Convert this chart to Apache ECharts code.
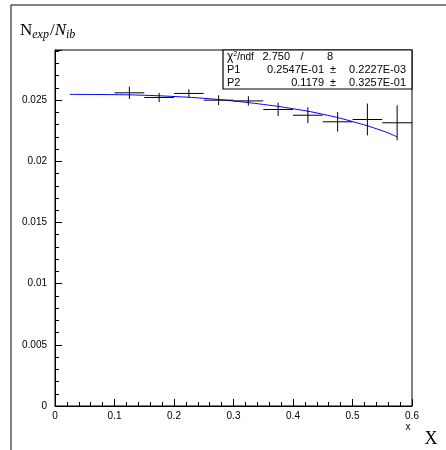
<!DOCTYPE html>
<html>
<head>
<meta charset="utf-8">
<script src="https://cdn.jsdelivr.net/npm/echarts@6/dist/echarts.min.js"></script>
<style>
  html, body { margin: 0; padding: 0; background: #fff; }
  #main { width: 446px; height: 450px; }
</style>
</head>
<body>
<div id="main"></div>
<script>
// bin centres and measured ratio N_exp/N_ib with errors
const xCenters = [0.125, 0.175, 0.225, 0.275, 0.325, 0.375, 0.425, 0.475, 0.525, 0.575];
const ratio = [0.02560, 0.02522, 0.02555, 0.02500, 0.02494, 0.02424, 0.02377, 0.02323, 0.02342, 0.02315];
const yErr = [0.00050, 0.00038, 0.00034, 0.00040, 0.00038, 0.00055, 0.00065, 0.00080, 0.00130, 0.00143];
const xHalf = [0.025, 0.025, 0.025, 0.025, 0.025, 0.025, 0.025, 0.025, 0.025, 0.025];

// fit curve
const fitX = [0.025, 0.1, 0.15, 0.2, 0.25, 0.3, 0.35, 0.4, 0.45, 0.5, 0.55, 0.575];
const fitY = [0.02547, 0.02545, 0.02540, 0.02530, 0.02515, 0.02493, 0.02465, 0.02430, 0.02385, 0.02325, 0.02250, 0.02200];

// stats box text
const statRows = [
  ["P1", "0.2547E-01", "0.2227E-03"],
  ["P2", "0.1179", "0.3257E-01"]
];
const chi2 = "2.750";
const ndf = "8";

const sans = "Liberation Sans";
const serif = "Liberation Serif";

const points = xCenters.map((x, i) => [x, ratio[i], xHalf[i], yErr[i]]);
const fit = fitX.map((x, i) => [x, fitY[i]]);

const chart = echarts.init(document.getElementById("main"));

const statsGraphic = [
  {
    type: "rect", z: 100,
    shape: { x: 223, y: 50, width: 189, height: 39 },
    style: { fill: "#fff", stroke: "#000", lineWidth: 1.2 }
  },
  {
    type: "text", z: 101, x: 227, y: 57,
    style: {
      text: "{c|χ}{s|2}{n|/ndf}", verticalAlign: "middle",
      rich: {
        c: { fontFamily: sans, fontSize: 12, fill: "#000" },
        s: { fontFamily: sans, fontSize: 7, fill: "#000", padding: [0, 0, 6, 0] },
        n: { fontFamily: sans, fontSize: 10, fill: "#000" }
      }
    }
  },
  { type: "text", z: 101, x: 290, y: 57, style: { text: chi2, fontFamily: sans, fontSize: 11, fill: "#000", align: "right", verticalAlign: "middle" } },
  { type: "text", z: 101, x: 302, y: 57, style: { text: "/", fontFamily: sans, fontSize: 11, fill: "#000", align: "center", verticalAlign: "middle" } },
  { type: "text", z: 101, x: 330, y: 57, style: { text: ndf, fontFamily: sans, fontSize: 11, fill: "#000", align: "center", verticalAlign: "middle" } }
];
statRows.forEach((r, i) => {
  const y = 70 + i * 13;
  statsGraphic.push(
    { type: "text", z: 101, x: 227, y: y, style: { text: r[0], fontFamily: sans, fontSize: 11, fill: "#000", verticalAlign: "middle" } },
    { type: "text", z: 101, x: 324, y: y, style: { text: r[1], fontFamily: sans, fontSize: 11, fill: "#000", align: "right", verticalAlign: "middle" } },
    { type: "text", z: 101, x: 333, y: y, style: { text: "±", fontFamily: sans, fontSize: 11, fill: "#000", align: "center", verticalAlign: "middle" } },
    { type: "text", z: 101, x: 406, y: y, style: { text: r[2], fontFamily: sans, fontSize: 11, fill: "#000", align: "right", verticalAlign: "middle" } }
  );
});

const option = {
  animation: false,
  backgroundColor: "#fff",
  grid: { left: 55, right: 34, top: 50, bottom: 44, show: true, borderColor: "#000", borderWidth: 1 },
  xAxis: {
    type: "value", min: 0, max: 0.6, interval: 0.1,
    axisLine: { onZero: false, lineStyle: { color: "#000", width: 1 } },
    axisTick: { inside: true, length: 7, lineStyle: { color: "#000" } },
    minorTick: { show: true, splitNumber: 5, length: 4, lineStyle: { color: "#000" } },
    splitLine: { show: false },
    axisLabel: { color: "#000", fontFamily: sans, fontSize: 10, margin: 5,
      formatter: v => String(parseFloat(v.toFixed(2))) }
  },
  yAxis: {
    type: "value", min: 0, max: 0.0291, interval: 0.005,
    axisLine: { onZero: false, lineStyle: { color: "#000", width: 1 } },
    axisTick: { inside: true, length: 7, lineStyle: { color: "#000" } },
    minorTick: { show: true, splitNumber: 5, length: 4, lineStyle: { color: "#000" } },
    splitLine: { show: false },
    axisLabel: { color: "#000", fontFamily: sans, fontSize: 10, margin: 8, showMaxLabel: false,
      formatter: v => String(parseFloat(v.toFixed(3))) }
  },
  graphic: [
    { type: "polyline", shape: { points: [[11, 450], [11, 5], [446, 5]] }, style: { stroke: "#000", lineWidth: 1, fill: null } },
    {
      type: "text", x: 20, y: 31,
      style: {
        text: "{n|N}{sub|exp}{n|/}{ni|N}{sub|ib}", verticalAlign: "middle",
        rich: {
          n: { fontFamily: serif, fontSize: 17, fill: "#000" },
          ni: { fontFamily: serif, fontSize: 17, fontStyle: "italic", fill: "#000" },
          sub: { fontFamily: serif, fontSize: 12, fontStyle: "italic", fill: "#000", padding: [7, 1, 0, 0] }
        }
      }
    },
    { type: "text", x: 408, y: 427, style: { text: "x", fontFamily: sans, fontSize: 10, fill: "#000", align: "center", verticalAlign: "middle" } },
    { type: "text", x: 431, y: 439, style: { text: "X", fontFamily: serif, fontSize: 18, fill: "#000", align: "center", verticalAlign: "middle" } }
  ].concat(statsGraphic),
  series: [
    {
      type: "line", data: fit, showSymbol: false, smooth: true,
      lineStyle: { color: "#0000ff", width: 1 }, z: 3
    },
    {
      type: "custom", data: points, z: 4,
      renderItem: (params, api) => {
        const x = api.value(0), y = api.value(1), ex = api.value(2), ey = api.value(3);
        const l = api.coord([x - ex, y]), r = api.coord([x + ex, y]);
        const t = api.coord([x, y + ey]), b = api.coord([x, y - ey]);
        const st = { stroke: "#000", lineWidth: 1 };
        return {
          type: "group",
          children: [
            { type: "line", shape: { x1: l[0], y1: l[1], x2: r[0], y2: r[1] }, style: st },
            { type: "line", shape: { x1: t[0], y1: t[1], x2: b[0], y2: b[1] }, style: st }
          ]
        };
      }
    }
  ]
};

chart.setOption(option);
</script>
</body>
</html>
